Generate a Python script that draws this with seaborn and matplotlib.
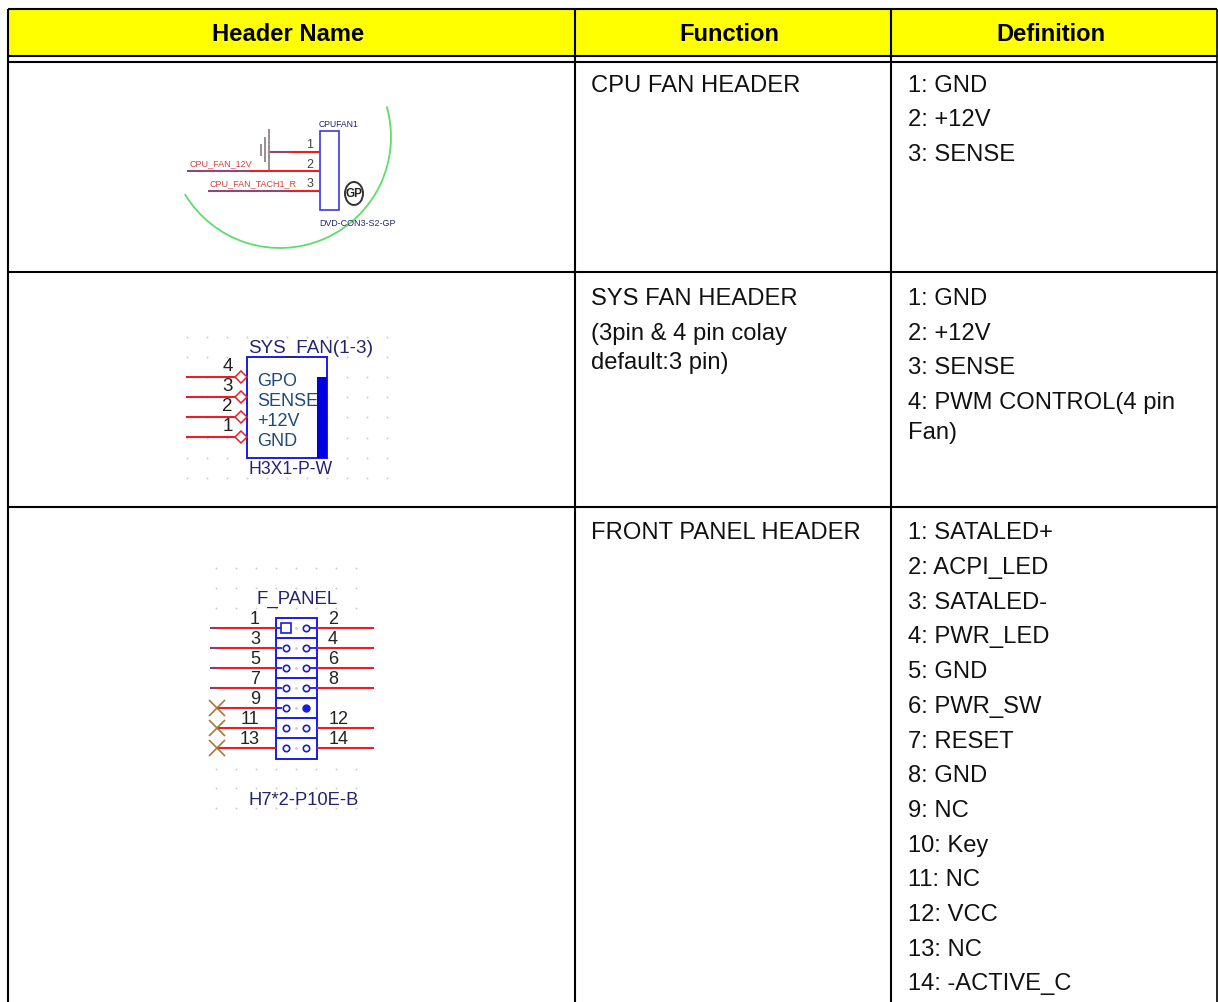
import numpy as np
import pandas as pd
import seaborn as sns
import matplotlib.pyplot as plt
from matplotlib.patches import Arc, Ellipse, Rectangle

# table text
columns = ["Header Name", "Function", "Definition"]
cpu_function = ["CPU FAN HEADER"]
cpu_definition = ["1: GND", "2: +12V", "3: SENSE"]
sys_function = ["SYS FAN HEADER", "(3pin & 4 pin colay", "default:3 pin)"]
sys_definition = ["1: GND", "2: +12V", "3: SENSE", "4: PWM CONTROL(4 pin", "Fan)"]
panel_function = ["FRONT PANEL HEADER"]
panel_definition = ["1: SATALED+", "2: ACPI_LED", "3: SATALED-", "4: PWR_LED", "5: GND",
                    "6: PWR_SW", "7: RESET", "8: GND", "9: NC", "10: Key", "11: NC",
                    "12: VCC", "13: NC", "14: -ACTIVE_C"]

# schematic labels
sys_pins = ["4", "3", "2", "1"]
sys_names = ["GPO", "SENSE", "+12V", "GND"]
panel_left = ["1", "3", "5", "7", "9", "11", "13"]
panel_right = ["2", "4", "6", "8", "", "12", "14"]

sns.set_theme(style="white")
plt.rcParams['font.family'] = ['Liberation Sans', 'DejaVu Sans']

fig = plt.figure(figsize=(12.18, 10.02), dpi=100)
ax = fig.add_axes([0, 0, 1, 1])
# axes run in picture pixels
ax.set_xlim(0, 1218)
ax.set_ylim(1002, 0)
ax.axis("off")

BLACK = "#000000"
RED = "#ee1c25"
NAVY = "#24246e"
BLUE = "#1a1ae6"
TEAL = "#1f4a78"


def line(x0, y0, x1, y1, color=BLACK, lw=1.5, z=3):
    ax.plot([x0, x1], [y0, y1], color=color, lw=lw, solid_capstyle="butt", zorder=z)


def label(x, y, s, size=17.15, color="#111111", ha="left", weight="normal", va="baseline"):
    ax.text(x, y, s, fontsize=size, color=color, ha=ha, va=va, fontweight=weight, zorder=6)


def dots(xs, ys):
    gx, gy = np.meshgrid(xs, ys)
    grid = pd.DataFrame({"x": gx.ravel(), "y": gy.ravel()})
    sns.scatterplot(data=grid, x="x", y="y", ax=ax, s=2, color="#ccccd4", linewidth=0,
                    legend=False, zorder=1)
    ax.set_xlim(0, 1218)
    ax.set_ylim(1002, 0)
    ax.axis("off")


# table frame
ax.add_patch(Rectangle((8, 9), 1209, 47, facecolor="#ffff00", edgecolor="none", zorder=0))
for y in [9, 56, 62, 272, 507]:
    line(8, y, 1217, y)
line(8, 9, 8, 1002)
line(1217, 9, 1217, 1002, lw=1.2)
for x in [575, 891]:
    line(x, 9, x, 1002)

# header row
for cx, name in zip([288, 729, 1051], columns):
    label(cx, 41, name, ha="center", weight="bold", color=BLACK)

# text cells
for y, s in zip([92], cpu_function):
    label(591, y, s)
for y, s in zip([92, 126, 161], cpu_definition):
    label(908, y, s)
for y, s in zip([305, 340, 369], sys_function):
    label(591, y, s)
for y, s in zip([305, 340, 374, 409, 439], sys_definition):
    label(908, y, s)
for y, s in zip([539], panel_function):
    label(591, y, s)
for y, s in zip([539, 574, 609, 643, 678, 713, 748, 782, 817, 852, 886, 921, 956, 990],
                panel_definition):
    label(908, y, s)

# CPU fan schematic
ax.add_patch(Arc((280, 137), 222, 222, theta1=-16, theta2=149, color="#5fdc6a", lw=1.3, zorder=1))
ax.add_patch(Rectangle((319.5, 131), 19.5, 79, facecolor="white", edgecolor="#3a3ae0", lw=1.2, zorder=2))
for y, x0, x_mid in [(151.7, 269, 290), (171.3, 187, 250), (191, 208, 290)]:
    line(x0, y, x_mid, y, color="#8a4a78", lw=1.5)
    line(x_mid, y, 319.5, y, color=RED, lw=1.5)
for x, y0, y1 in [(269, 129, 170), (265, 137, 162), (261, 144, 156)]:
    line(x, y0, x, y1, color="#8a7a80", lw=1.2)
for y, s in zip([145, 165, 184], ["1", "2", "3"]):
    label(310, y, s, size=9, color="#444444", ha="center", va="center")
label(189, 166, "CPU_FAN_12V", size=6.5, color="#d8403c")
label(210, 186, "CPU_FAN_TACH1_R", size=6.5, color="#d8403c")
label(319, 127, "CPUFAN1", size=6.2, color=NAVY)
label(319, 226, "DVD-CON3-S2-GP", size=6.4, color=NAVY)
ax.add_patch(Ellipse((354, 193.5), 18, 23, facecolor="white", edgecolor="#333333", lw=1.4, zorder=3))
label(354, 194, "GP", size=8.5, color="#222222", ha="center", va="center", weight="bold")

# SYS fan schematic
dots(np.arange(186.7, 390, 20), np.arange(337, 480, 20.1))
ax.add_patch(Rectangle((247, 357), 80, 100.5, facecolor="white", edgecolor=BLUE, lw=1.4, zorder=2))
ax.add_patch(Rectangle((317, 377), 10, 80.5, facecolor="#0000e0", edgecolor="none", zorder=3))
for i, (pin, name) in enumerate(zip(sys_pins, sys_names)):
    y = 377.3 + 20 * i
    line(186, y, 236, y, color=RED, lw=1.5)
    ax.plot([240.7], [y], marker="D", ms=6, mfc="white", mec=RED, mew=1.1, zorder=4)
    label(227.5, y - 10.5, pin, size=13.5, color="#222222", ha="center", va="center")
    label(257.5, y + 9, name, size=13, color=TEAL)
label(248, 353, "SYS_FAN(1-3)", size=13.6, color=NAVY)
label(248, 474, "H3X1-P-W", size=12.7, color=NAVY)

# front panel schematic
dots(np.arange(216, 365, 20), [568, 588, 608, 768.7, 788, 808])
ax.add_patch(Rectangle((276, 618), 40.7, 141, facecolor="white", edgecolor=BLUE, lw=1.4, zorder=2))
for i, (lft, rgt) in enumerate(zip(panel_left, panel_right)):
    y = 628 + 20.05 * i
    if i < 6:
        line(276, y + 10, 316.7, y + 10, color=BLUE, lw=1.4)
    # wires, the three lower left ones end in a cross
    if i < 4:
        line(210, y, 217, y, color="#8a3a70", lw=1.5)
        line(217, y, 276, y, color=RED, lw=1.5)
    else:
        line(217, y, 276, y, color=RED, lw=1.5)
        ax.plot([216.7], [y], marker="x", ms=11, mec="#a87838", mew=1.2, zorder=4)
    if rgt:
        line(316.7, y, 374, y, color=RED, lw=1.5)
    # pads
    if i < 5:
        line(276, y, 282, y, color=BLUE, lw=1.3)
    if i < 4:
        line(309, y, 316.7, y, color=BLUE, lw=1.3)
    if i == 0:
        ax.plot([286], [y], marker="s", ms=6.5, mfc="white", mec=BLUE, mew=1.2, zorder=4)
    else:
        ax.plot([286], [y], marker="o", ms=4.6, mfc="white", mec=BLUE, mew=1.2, zorder=4)
    if i == 4:
        ax.plot([305.7], [y], marker="o", ms=5, mfc=BLUE, mec=BLUE, zorder=4)
    else:
        ax.plot([305.7], [y], marker="o", ms=4.6, mfc="white", mec=BLUE, mew=1.2, zorder=4)
    ax.plot([296], [y], marker="o", ms=1, color="#ccccd4", zorder=3)
    lx = 255 if i < 5 else 250
    rx = 333 if i < 4 else 339
    label(lx, y - 9, lft, size=13, color="#222222", ha="center", va="center")
    label(rx, y - 9, rgt, size=13, color="#222222", ha="center", va="center")
label(256.5, 604, "F_PANEL", size=13.4, color=NAVY)
label(249, 805, "H7*2-P10E-B", size=13.2, color=NAVY)

fig.savefig("out.png", dpi=100, facecolor="white")
